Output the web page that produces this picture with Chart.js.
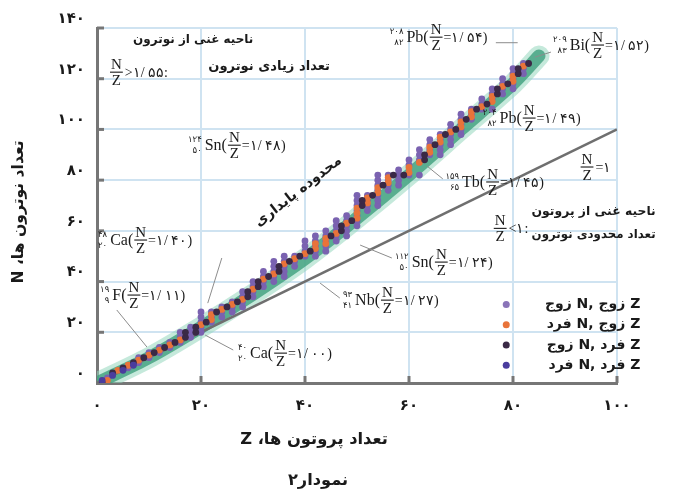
<!DOCTYPE html>
<html>
<head>
<meta charset="utf-8">
<script src="https://cdn.jsdelivr.net/npm/chart.js@4.4.1/dist/chart.umd.min.js"></script>
<style>
  html,body{margin:0;padding:0;background:#fff}
  #wrap{width:679px;height:495px;position:relative}
</style>
</head>
<body>
<div id="wrap"><canvas id="c"></canvas></div>
<script>
// ارقام فارسی
const FA = ['۰','۱','۲','۳','۴','۵','۶','۷','۸','۹'];
const fa = v => String(v).replace(/\d/g, d => FA[d]);

const xTicks = [0,20,40,60,80,100];
const yTicks = [0,20,40,60,80,100,120,140];

// هسته های پایدار [Z, N]
const evenZevenN = [[2,2],[6,6],[8,8],[8,10],[10,10],[10,12],[12,12],[12,14],[14,14],[14,16],[16,16],[16,18],[16,20],[18,18],[18,20],[18,22],[20,20],[20,22],[20,24],[20,26],[20,28],[22,24],[22,26],[22,28],[24,26],[24,28],[24,30],[26,28],[26,30],[26,32],[28,30],[28,32],[28,34],[28,36],[30,34],[30,36],[30,38],[30,40],[32,38],[32,40],[32,42],[32,44],[34,40],[34,42],[34,44],[34,46],[34,48],[36,42],[36,44],[36,46],[36,48],[36,50],[38,46],[38,48],[38,50],[40,50],[40,52],[40,54],[40,56],[42,50],[42,52],[42,54],[42,56],[42,58],[44,52],[44,54],[44,56],[44,58],[44,60],[46,56],[46,58],[46,60],[46,62],[46,64],[48,58],[48,60],[48,62],[48,64],[48,66],[50,62],[50,64],[50,66],[50,68],[50,70],[50,72],[50,74],[52,68],[52,70],[52,72],[52,74],[54,70],[54,72],[54,74],[54,76],[54,78],[54,80],[54,82],[56,76],[56,78],[56,80],[56,82],[58,78],[58,80],[58,82],[58,84],[60,82],[60,86],[60,88],[62,82],[62,88],[62,90],[62,92],[64,90],[64,92],[64,94],[64,96],[66,90],[66,92],[66,94],[66,96],[66,98],[68,94],[68,96],[68,98],[68,100],[68,102],[70,98],[70,100],[70,102],[70,104],[70,106],[72,104],[72,106],[72,108],[74,108],[74,110],[74,112],[76,108],[76,112],[76,114],[76,116],[78,114],[78,116],[78,118],[78,120],[80,116],[80,118],[80,120],[80,122],[80,124],[82,122],[82,124],[82,126]];
const evenZoddN = [[2,1],[4,5],[6,7],[8,9],[10,11],[12,13],[14,15],[16,17],[20,23],[22,25],[22,27],[24,29],[26,31],[28,33],[30,37],[32,41],[34,43],[36,47],[38,49],[40,51],[42,53],[42,55],[44,55],[44,57],[46,59],[48,63],[50,65],[50,67],[50,69],[52,71],[52,73],[54,75],[54,77],[56,79],[56,81],[60,83],[60,85],[62,87],[64,91],[64,93],[66,95],[66,97],[68,99],[70,101],[70,103],[72,105],[72,107],[74,109],[76,111],[76,113],[78,117],[80,119],[80,121],[82,125]];
const oddZevenN = [[1,0],[3,4],[5,6],[7,8],[9,10],[11,12],[13,14],[15,16],[17,18],[17,20],[19,20],[19,22],[21,24],[23,28],[25,30],[27,32],[29,34],[29,36],[31,38],[31,40],[33,42],[35,44],[35,46],[37,48],[39,50],[41,52],[45,58],[47,60],[47,62],[49,64],[51,70],[51,72],[53,74],[55,78],[57,82],[59,82],[63,88],[63,90],[65,94],[67,98],[69,100],[71,104],[73,108],[75,110],[77,114],[77,116],[79,118],[81,122],[81,124],[83,126]];
const oddZoddN = [[1,1],[3,3],[5,5],[7,7]];

// محدوده پایداری (خط میانی نوار سبز) و خط N=Z
const bandCenter = [[0,0],[10,10],[20,22],[30,35],[40,49],[50,65],[60,82],[70,100],[80,118],[85,129]];
const unityLine = [[0,0],[100,100]];

const COLORS = {
  ee:'#7a62b0', eo:'#e8733a', oe:'#3a2946', oo:'#4a3c9e',
  bandOuter:'rgba(150,215,190,0.55)', bandInner:'rgba(62,160,125,0.8)',
  unity:'#6f6f6f', grid:'#cfe3f1', axis:'#767676', text:'#1a1a1a', pointer:'#8c8c8c'
};

const legendItems = [
  {label:'زوج N, زوج Z', color:'#8a74b8'},
  {label:'فرد N, زوج Z', color:COLORS.eo},
  {label:'زوج N, فرد Z', color:COLORS.oe},
  {label:'فرد N, فرد Z', color:COLORS.oo}
];

const xy = arr => arr.map(([x,y]) => ({x, y}));

// برچسب هسته ها، موقعیت بر حسب (Z, N)
const nuclides = [
  {z:56.3, n:136.4, A:'۲۰۸', Zs:'۸۲', sym:'Pb', r:'۱/ ۵۴'},
  {z:87.7, n:133.3, A:'۲۰۹', Zs:'۸۳', sym:'Bi', r:'۱/ ۵۲'},
  {z:17.5, n:93.8,  A:'۱۲۴', Zs:'۵۰', sym:'Sn', r:'۱/ ۴۸'},
  {z:74.2, n:104.5, A:'۲۰۴', Zs:'۸۲', sym:'Pb', r:'۱/ ۴۹'},
  {z:67.0, n:79.3,  A:'۱۵۹', Zs:'۶۵', sym:'Tb', r:'۱/ ۴۵'},
  {z:0.2,  n:56.4,  A:'۴۸',  Zs:'۲۰', sym:'Ca', r:'۱/ ۴۰'},
  {z:0.6,  n:34.7,  A:'۱۹',  Zs:'۹',  sym:'F',  r:'۱/ ۱۱'},
  {z:27.1, n:11.8,  A:'۴۰',  Zs:'۲۰', sym:'Ca', r:'۱/ ۰۰'},
  {z:47.3, n:32.7,  A:'۹۳',  Zs:'۴۱', sym:'Nb', r:'۱/ ۲۷'},
  {z:57.3, n:47.7,  A:'۱۱۲', Zs:'۵۰', sym:'Sn', r:'۱/ ۲۴'}
];
const fractions = [
  {z:2.5,  n:122.6, tail:'>۱/ ۵۵:'},
  {z:93.0, n:85.2,  tail:'=۱'},
  {z:76.3, n:61.0,  tail:'<۱:'}
];
const pointers = [
  [[76.7,134.2],[80.9,134.2]],
  [[84.2,128.5],[87.3,130.5]],
  [[63.5,85.5],[66.5,80.5]],
  [[24.0,49.3],[21.3,31.5]],
  [[3.8,28.8],[9.6,14.2]],
  [[26.2,13.0],[20.8,18.9]],
  [[42.9,39.4],[46.7,33.5]],
  [[50.6,54.4],[56.7,49.3]]
];
const persianNotes = [
  {z:18.5, n:135.3, w:120, text:'ناحیه غنی از نوترون'},
  {z:33.1, n:124.6, w:122, text:'تعداد زیادی نوترون'},
  {z:95.5, n:67.4,  w:124, text:'ناحیه غنی از پروتون'},
  {z:95.5, n:58.4,  w:124, text:'تعداد محدودی نوترون'},
  {z:38.7, n:75.5,  w:106, text:'محدوده پایداری', rot:-38}
];

const FONT_FA = '"DejaVu Sans"';
const FONT_LAT = '"Liberation Serif"';

function fitText(ctx, text, cx, cy, w, rot){
  ctx.save();
  ctx.font = 'bold 20px ' + FONT_FA;
  const size = 20 * w / ctx.measureText(text).width;
  ctx.font = 'bold ' + size.toFixed(1) + 'px ' + FONT_FA;
  ctx.translate(cx, cy);
  if(rot) ctx.rotate(rot * Math.PI / 180);
  ctx.textAlign = 'center';
  ctx.textBaseline = 'middle';
  ctx.direction = 'rtl';
  ctx.fillStyle = COLORS.text;
  ctx.fillText(text, 0, 0);
  ctx.restore();
}

function drawFrac(ctx, x, cy){
  ctx.font = '15px ' + FONT_LAT;
  const w = Math.max(ctx.measureText('N').width, ctx.measureText('Z').width);
  ctx.textAlign = 'center';
  ctx.textBaseline = 'alphabetic';
  ctx.fillText('N', x + w/2 + 1, cy - 3);
  ctx.fillText('Z', x + w/2 + 1, cy + 13);
  ctx.fillRect(x, cy - 0.5, w + 2, 1.1);
  return w + 3;
}

function drawNuclide(ctx, nu, x, cy){
  ctx.save();
  ctx.fillStyle = COLORS.text;
  ctx.font = '8.5px ' + FONT_FA;
  const pw = Math.max(ctx.measureText(nu.A).width, ctx.measureText(nu.Zs).width);
  ctx.textAlign = 'right';
  ctx.textBaseline = 'alphabetic';
  ctx.fillText(nu.A, x + pw, cy - 3);
  ctx.fillText(nu.Zs, x + pw, cy + 8);
  let cx = x + pw + 3;
  ctx.font = '16px ' + FONT_LAT;
  ctx.textAlign = 'left';
  ctx.textBaseline = 'middle';
  const head = nu.sym + '(';
  ctx.fillText(head, cx, cy + 1);
  cx += ctx.measureText(head).width + 1;
  cx += drawFrac(ctx, cx, cy);
  ctx.font = '14px ' + FONT_LAT;
  ctx.textAlign = 'left';
  ctx.textBaseline = 'middle';
  ctx.fillText('=' + nu.r + ')', cx, cy + 1);
  ctx.restore();
}

const decor = {
  id:'decor',
  afterDraw(chart){
    const {ctx, scales:{x, y}} = chart;
    const P = (z, n) => [x.getPixelForValue(z), y.getPixelForValue(n)];
    ctx.save();

    // تیک های کوچک روی محورها
    ctx.strokeStyle = COLORS.axis;
    ctx.lineWidth = 3;
    yTicks.slice(1).forEach(v => {
      const py = y.getPixelForValue(v);
      ctx.beginPath(); ctx.moveTo(x.left, py); ctx.lineTo(x.left + 7, py); ctx.stroke();
    });
    xTicks.slice(1).forEach(v => {
      const px = x.getPixelForValue(v);
      ctx.beginPath(); ctx.moveTo(px, y.bottom); ctx.lineTo(px, y.bottom - 7); ctx.stroke();
    });

    // خطوط راهنما
    ctx.strokeStyle = COLORS.pointer;
    ctx.lineWidth = 1;
    pointers.forEach(([a, b]) => {
      const p1 = P(...a), p2 = P(...b);
      ctx.beginPath(); ctx.moveTo(...p1); ctx.lineTo(...p2); ctx.stroke();
    });

    nuclides.forEach(nu => {
      const [px, py] = P(nu.z, nu.n);
      drawNuclide(ctx, nu, px, py);
    });

    fractions.forEach(f => {
      const [px, py] = P(f.z, f.n);
      ctx.save();
      ctx.fillStyle = COLORS.text;
      const w = drawFrac(ctx, px, py);
      ctx.font = '14px ' + FONT_LAT;
      ctx.textAlign = 'left';
      ctx.textBaseline = 'middle';
      ctx.fillText(f.tail, px + w + 1, py + 1);
      ctx.restore();
    });

    persianNotes.forEach(t => {
      const [px, py] = P(t.z, t.n);
      fitText(ctx, t.text, px, py, t.w, t.rot);
    });

    // راهنما
    legendItems.forEach((it, i) => {
      const [dx, dy] = P(78.7, 31.0 - i * 8);
      ctx.fillStyle = it.color;
      ctx.beginPath(); ctx.arc(dx, dy, 3.5, 0, Math.PI * 2); ctx.fill();
      ctx.fillStyle = COLORS.text;
      ctx.font = 'bold 14px ' + FONT_FA;
      ctx.textAlign = 'right';
      ctx.textBaseline = 'middle';
      ctx.direction = 'ltr';
      ctx.fillText(it.label, x.getPixelForValue(104.5), dy);
    });

    // عنوان محورها و نمودار
    fitText(ctx, 'تعداد نوترون ها، N', 19, 212, 143, -90);
    fitText(ctx, 'تعداد پروتون ها، Z', 314, 440, 148);
    fitText(ctx, 'نمودار۲', 318, 481, 60);
    ctx.restore();
  }
};

new Chart(document.getElementById('c'), {
  type:'scatter',
  data:{
    datasets:[
      {data:xy(bandCenter), showLine:true, borderColor:COLORS.bandOuter, borderWidth:21, pointRadius:0, borderCapStyle:'round', borderJoinStyle:'round', tension:.3, order:12},
      {data:xy(bandCenter), showLine:true, borderColor:COLORS.bandInner, borderWidth:13, pointRadius:0, borderCapStyle:'round', borderJoinStyle:'round', tension:.3, order:11},
      {data:xy(unityLine), showLine:true, borderColor:COLORS.unity, borderWidth:2.5, pointRadius:0, order:10},
      {data:xy(evenZevenN), backgroundColor:COLORS.ee, pointRadius:3.4, borderWidth:0, order:4},
      {data:xy(evenZoddN), backgroundColor:COLORS.eo, pointRadius:3.4, borderWidth:0, order:3},
      {data:xy(oddZevenN), backgroundColor:COLORS.oe, pointRadius:3.4, borderWidth:0, order:2},
      {data:xy(oddZoddN), backgroundColor:COLORS.oo, pointRadius:3.4, borderWidth:0, order:1}
    ]
  },
  options:{
    responsive:true,
    maintainAspectRatio:false,
    animation:false,
    events:[],
    layout:{padding:{top:28, right:62, left:0, bottom:0}},
    plugins:{legend:{display:false}, tooltip:{enabled:false}},
    scales:{
      x:{
        type:'linear', min:0, max:100,
        afterFit:s => { s.height = 112; },
        afterBuildTicks:s => { s.ticks = xTicks.map(v => ({value:v})); },
        ticks:{color:COLORS.text, padding:14, font:{family:'DejaVu Sans', size:15, weight:'bold'}, callback:v => fa(v)},
        grid:{color:COLORS.grid, lineWidth:2, drawTicks:false},
        border:{color:COLORS.axis, width:3}
      },
      y:{
        type:'linear', min:0, max:140,
        afterFit:s => { s.width = 97; },
        afterBuildTicks:s => { s.ticks = yTicks.map(v => ({value:v})); },
        ticks:{color:COLORS.text, padding:12, labelOffset:-9, font:{family:'DejaVu Sans', size:15, weight:'bold'}, callback:v => fa(v)},
        grid:{color:COLORS.grid, lineWidth:2, drawTicks:false},
        border:{color:COLORS.axis, width:3}
      }
    }
  },
  plugins:[decor]
});
</script>
</body>
</html>
